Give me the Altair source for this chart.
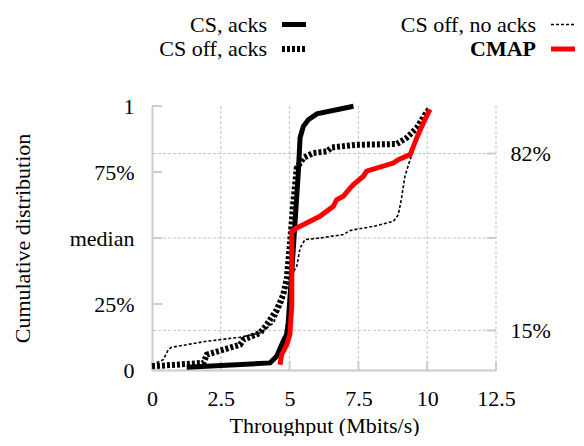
import altair as alt
import pandas as pd

# ---- data ----
cs_acks_x = [1.26, 4.29, 4.53, 4.77, 4.89, 4.95, 5.08, 5.20, 5.32, 5.38, 5.50, 5.68, 5.99, 7.32]
cs_acks_y = [0.01, 0.027, 0.052, 0.11, 0.134, 0.18, 0.374, 0.563, 0.753, 0.88, 0.923, 0.948, 0.97, 0.999]

cs_off_acks_x = [0.0, 1.87, 1.99, 3.20, 3.32, 3.92, 4.17, 4.53, 4.77, 4.90, 5.01, 5.13, 5.26, 5.50,
                 5.86, 6.35, 6.53, 7.44, 8.89, 9.25, 9.62, 9.92, 10.10]
cs_off_acks_y = [0.014, 0.027, 0.058, 0.096, 0.115, 0.14, 0.172, 0.228, 0.285, 0.348, 0.475, 0.626,
                 0.765, 0.803, 0.822, 0.828, 0.843, 0.853, 0.856, 0.879, 0.917, 0.967, 0.992]

cs_off_noacks_x = [0.0, 0.41, 0.59, 0.71, 1.99, 3.20, 3.92, 4.41, 4.77, 4.90, 5.08, 5.26, 5.38, 5.56,
                   6.10, 6.95, 7.20, 7.32, 8.04, 8.77, 8.95, 9.07, 9.19, 9.38, 9.56, 9.80, 10.04]
cs_off_noacks_y = [0.02, 0.039, 0.077, 0.086, 0.109, 0.124, 0.14, 0.178, 0.26, 0.323, 0.361, 0.393,
                   0.462, 0.494, 0.5, 0.513, 0.528, 0.531, 0.544, 0.563, 0.588, 0.652, 0.734, 0.797,
                   0.853, 0.917, 0.992]

cmap_x = [4.65, 4.71, 4.90, 5.01, 5.08, 5.08, 5.26, 5.62, 6.10, 6.59, 6.71, 6.95, 7.20, 7.32, 7.68,
          7.80, 8.77, 8.95, 9.38, 9.62, 9.86, 10.10]
cmap_y = [0.02, 0.058, 0.096, 0.134, 0.247, 0.525, 0.538, 0.557, 0.582, 0.62, 0.645, 0.658, 0.689,
          0.702, 0.734, 0.753, 0.784, 0.797, 0.816, 0.879, 0.936, 0.987]

series_names = ["CS, acks", "CS off, acks", "CS off, no acks", "CMAP"]

x_ticks = [0, 2.5, 5, 7.5, 10, 12.5]
x_grid = [2.5, 5, 7.5, 10, 12.5]
y_left_ticks = [0, 0.25, 0.5, 0.75, 1]
y_left_labels = ["0", "25%", "median", "75%", "1"]
y_right_ticks = [0.15, 0.5, 0.82]
y_right_labels = ["15%", "", "82%"]
y_grid = [0.15, 0.5, 0.82]

# ---- styles ----
FONT = "Liberation Serif"
FS = 22
AXIS_GRAY = "#cccccc"
GRID_GRAY = "#c4c4c4"
W, H = 344, 264

styles = {
    "CS, acks": dict(color="black", strokeWidth=5),
    "CS off, acks": dict(color="black", strokeWidth=6, strokeDash=[3, 2]),
    "CS off, no acks": dict(color="black", strokeWidth=1.6, strokeDash=[3, 2]),
    "CMAP": dict(color="#ff0000", strokeWidth=5),
}

xs = alt.Scale(domain=[0, 12.5], nice=False, zero=False)
ys = alt.Scale(domain=[0, 1], nice=False, zero=False)

left_expr = "{" + ",".join(f"'{v}':'{l}'" for v, l in zip(y_left_ticks, y_left_labels)) + "}[datum.value]"
right_expr = "{" + ",".join(f"'{v}':'{l}'" for v, l in zip(y_right_ticks, y_right_labels)) + "}[datum.value]"

# axes layer
axis_df = pd.DataFrame({"x": [0.0, 12.5], "y": [0.0, 1.0]})
x_axis = alt.Axis(values=x_ticks, ticks=False, grid=False, domainColor=AXIS_GRAY, domainWidth=2,
                  labelFont=FONT, labelFontSize=FS, labelColor="black", labelPadding=18,
                  labelExpr="format(datum.value, '')",
                  labelFlush=False, labelOverlap=False,
                  title="Throughput (Mbits/s)", titleFont=FONT, titleFontSize=FS,
                  titleFontWeight="normal", titleColor="black", titleX=W / 2, titleY=62,
                  titleBaseline="alphabetic", titleAlign="center")
y_axis_left = alt.Axis(values=y_left_ticks, ticks=False, grid=False, domainColor=AXIS_GRAY, domainWidth=2,
                       labelFont=FONT, labelFontSize=FS, labelColor="black", labelPadding=18,
                       labelExpr=left_expr, labelFlush=False, labelOverlap=False, labelBaseline="middle",
                       title="Cumulative distribution", titleFont=FONT, titleFontSize=FS,
                       titleFontWeight="normal", titleColor="black", titleX=-130, titleY=H / 2,
                       titleAngle=-90, titleBaseline="middle", titleAlign="center")
y_axis_right = alt.Axis(values=y_right_ticks, ticks=False, grid=False, domain=False, orient="right",
                        labelFont=FONT, labelFontSize=FS, labelColor="black", labelPadding=14,
                        labelExpr=right_expr, labelFlush=False, labelOverlap=False, labelBaseline="middle",
                        title=None)

axes_left = alt.Chart(axis_df).mark_point(opacity=0).encode(
    x=alt.X("x:Q", scale=xs, axis=x_axis),
    y=alt.Y("y:Q", scale=ys, axis=y_axis_left),
)
axes_right = alt.Chart(axis_df).mark_point(opacity=0).encode(
    x=alt.X("x:Q", scale=xs, axis=None),
    y=alt.Y("y:Q", scale=ys, axis=y_axis_right),
)

# gridlines
vgrid = alt.Chart(pd.DataFrame({"x": x_grid})).mark_rule(
    color=GRID_GRAY, strokeWidth=1, strokeDash=[3, 2]).encode(
    x=alt.X("x:Q", scale=xs, axis=None))
hgrid = alt.Chart(pd.DataFrame({"y": y_grid})).mark_rule(
    color=GRID_GRAY, strokeWidth=1, strokeDash=[3, 2]).encode(
    y=alt.Y("y:Q", scale=ys, axis=None))

# inward ticks
left_ticks = alt.Chart(pd.DataFrame({"y": y_left_ticks})).mark_rule(color=AXIS_GRAY, strokeWidth=2).encode(
    y=alt.Y("y:Q", scale=ys, axis=None), x=alt.value(0), x2=alt.value(10))
right_ticks = alt.Chart(pd.DataFrame({"y": y_right_ticks})).mark_rule(color=AXIS_GRAY, strokeWidth=2).encode(
    y=alt.Y("y:Q", scale=ys, axis=None), x=alt.value(W - 9), x2=alt.value(W))
bottom_ticks = alt.Chart(pd.DataFrame({"x": x_ticks})).mark_rule(color=AXIS_GRAY, strokeWidth=2).encode(
    x=alt.X("x:Q", scale=xs, axis=None), y=alt.value(H), y2=alt.value(H - 9))

# series
series_data = {
    "CS, acks": (cs_acks_x, cs_acks_y),
    "CS off, acks": (cs_off_acks_x, cs_off_acks_y),
    "CS off, no acks": (cs_off_noacks_x, cs_off_noacks_y),
    "CMAP": (cmap_x, cmap_y),
}
order_draw = ["CS off, no acks", "CS off, acks", "CS, acks", "CMAP"]
lines = []
for name in order_draw:
    xv, yv = series_data[name]
    df = pd.DataFrame({"x": xv, "y": yv, "i": list(range(len(xv)))})
    lines.append(alt.Chart(df).mark_line(interpolate="linear", **styles[name]).encode(
        x=alt.X("x:Q", scale=xs, axis=None),
        y=alt.Y("y:Q", scale=ys, axis=None),
        order="i:Q"))

# manual legend (labels right-aligned, sample line on the right)
legend_pos = {
    "CS, acks": (115, -81.5),
    "CS off, acks": (115, -57),
    "CS off, no acks": (384, -81.5),
    "CMAP": (384, -57),
}
legend = []
for name in series_names:
    tx, ty = legend_pos[name]
    ldf = pd.DataFrame({"label": [name]})
    legend.append(alt.Chart(ldf).mark_text(
        align="right", baseline="middle", font=FONT, fontSize=FS, color="black",
        fontWeight="bold" if name == "CMAP" else "normal").encode(
        text="label:N", x=alt.value(tx), y=alt.value(ty)))
    st = dict(styles[name])
    legend.append(alt.Chart(ldf).mark_rule(**st).encode(
        x=alt.value(tx + 15), x2=alt.value(tx + 39), y=alt.value(ty)))

chart = alt.layer(
    vgrid, hgrid, axes_left, axes_right, left_ticks, right_ticks, bottom_ticks, *lines, *legend
).resolve_axis(x="independent", y="independent").properties(
    width=W, height=H,
    autosize=alt.AutoSizeParams(type="none"),
    padding={"left": 144, "top": 98, "right": 80, "bottom": 66},
).configure_view(stroke=None)

chart.save("out.html", embed_options={"renderer": "svg", "actions": False})
